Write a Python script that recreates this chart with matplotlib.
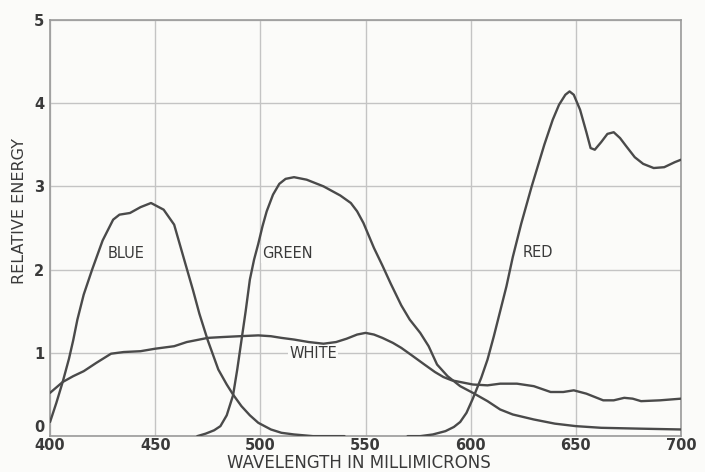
# 적/녹/청/백색 형광체의 파장별 상대 에너지 분포 곡선

import matplotlib.pyplot as plt
from matplotlib import transforms

# 청색 (파장 nm, 상대 에너지)
blue_nm = [400, 403, 406, 409, 411, 413, 416, 420, 425, 430, 433, 438, 443, 448,
           454, 459, 464, 468, 471, 475, 480, 484, 487, 491, 495, 499, 505, 510, 516, 525, 540]
blue_e = [0.17, 0.4, 0.65, 0.93, 1.15, 1.4, 1.7, 2.0, 2.35, 2.6, 2.66, 2.68, 2.75, 2.8,
          2.72, 2.54, 2.1, 1.75, 1.47, 1.15, 0.8, 0.62, 0.5, 0.36, 0.25, 0.16, 0.08, 0.04, 0.02, 0.0, 0.0]

# 녹색
green_nm = [470, 474, 478, 481, 484, 487, 489, 491, 493, 495, 497, 499, 501, 503, 506, 509,
            512, 516, 522, 530, 538, 543, 546, 549, 554, 558, 562, 567, 571, 576, 580, 584,
            589, 595, 601, 608, 614, 620, 630, 640, 650, 662, 680, 700]
green_e = [0.0, 0.03, 0.07, 0.12, 0.25, 0.49, 0.8, 1.15, 1.5, 1.88, 2.12, 2.31, 2.52, 2.7, 2.9, 3.03,
           3.09, 3.11, 3.08, 3.0, 2.89, 2.8, 2.7, 2.56, 2.26, 2.05, 1.83, 1.57, 1.4, 1.24, 1.08, 0.86,
           0.72, 0.6, 0.52, 0.42, 0.32, 0.26, 0.2, 0.15, 0.12, 0.1, 0.09, 0.08]

# 적색
red_nm = [570, 576, 582, 588, 592, 595, 598, 601, 605, 608, 611, 614, 617, 620, 624, 629,
          635, 639, 642, 645, 647, 649, 652, 655, 657, 659, 662, 665, 668, 671, 674, 678,
          682, 687, 692, 697, 700]
red_e = [0.0, 0.0, 0.02, 0.06, 0.11, 0.17, 0.28, 0.45, 0.7, 0.92, 1.2, 1.5, 1.8, 2.15, 2.55, 3.0,
         3.5, 3.8, 3.98, 4.1, 4.14, 4.1, 3.92, 3.65, 3.46, 3.44, 3.53, 3.63, 3.65, 3.58, 3.48, 3.35,
         3.27, 3.22, 3.23, 3.29, 3.32]

# 백색
white_nm = [400, 406, 411, 416, 422, 429, 435, 443, 450, 459, 465, 475, 482, 490, 499, 505,
            510, 516, 523, 530, 536, 541, 546, 550, 554, 558, 563, 567, 572, 578, 583, 587,
            591, 595, 601, 608, 614, 622, 630, 638, 644, 649, 655, 663, 668, 673, 677, 681,
            690, 700]
white_e = [0.52, 0.65, 0.72, 0.78, 0.88, 0.99, 1.01, 1.02, 1.05, 1.08, 1.13, 1.18, 1.19, 1.2, 1.21, 1.2,
           1.18, 1.16, 1.13, 1.11, 1.13, 1.17, 1.22, 1.24, 1.22, 1.18, 1.12, 1.06, 0.97, 0.86, 0.77, 0.71,
           0.67, 0.65, 0.62, 0.61, 0.63, 0.63, 0.6, 0.53, 0.53, 0.55, 0.51, 0.43, 0.43, 0.46, 0.45, 0.42,
           0.43, 0.45]

# 곡선 이름과 표시 위치 (nm, 에너지)
curve_names = ['BLUE', 'GREEN', 'WHITE', 'RED']
name_nm = [436, 513, 525, 632]
name_e = [2.19, 2.19, 0.99, 2.2]

x_ticks = [400, 450, 500, 550, 600, 650, 700]
y_ticks = [0, 1, 2, 3, 4, 5]

ink = '#3a3a3a'
paper = '#fbfbf9'

fig = plt.figure(figsize=(7.05, 4.72), dpi=100, facecolor=paper)
ax = fig.add_axes([0.071, 0.076, 0.895, 0.882], facecolor=paper)

# 격자선
for xv in x_ticks:
    ax.axvline(xv, color='#c4c4c4', lw=1.0, zorder=1)
for yv in y_ticks:
    ax.axhline(yv, color='#c4c4c4', lw=1.0, zorder=1)

# 네 개의 곡선
for xs, ys in [(blue_nm, blue_e), (green_nm, green_e), (red_nm, red_e), (white_nm, white_e)]:
    ax.plot(xs, ys, color='#4a4a4a', lw=1.7, solid_capstyle='round', zorder=3)

# 곡선 이름
for name, xv, yv in zip(curve_names, name_nm, name_e):
    ax.text(xv, yv, name, ha='center', va='center', fontsize=10.5, color=ink,
            family='DejaVu Sans', bbox=dict(facecolor=paper, edgecolor='none', pad=1.0), zorder=4)

ax.set_xlim(400, 700)
ax.set_ylim(0, 5)
ax.set_xticks(x_ticks)
ax.set_yticks(y_ticks)
ax.tick_params(length=0, labelsize=10.5, labelcolor=ink)
ax.tick_params(axis='x', pad=1)
ax.tick_params(axis='y', pad=4)
for lab in ax.get_xticklabels() + ax.get_yticklabels():
    lab.set_fontweight('bold')

# 원점의 0 은 400 과 겹치지 않도록 조금 위로
zero_lab = ax.get_yticklabels()[0]
zero_lab.set_transform(zero_lab.get_transform() +
                       transforms.ScaledTranslation(0, 7 / 72, fig.dpi_scale_trans))

for sp in ax.spines.values():
    sp.set_color('#9a9a9a')
    sp.set_linewidth(1.2)

ax.set_xlabel('WAVELENGTH IN MILLIMICRONS', fontsize=12, color=ink)
ax.xaxis.set_label_coords(0.49, -0.042)
ax.set_ylabel('RELATIVE ENERGY', fontsize=11.5, color=ink)
ax.yaxis.set_label_coords(-0.036, 0.54)

fig.savefig('out.png', dpi=100, facecolor=paper)
